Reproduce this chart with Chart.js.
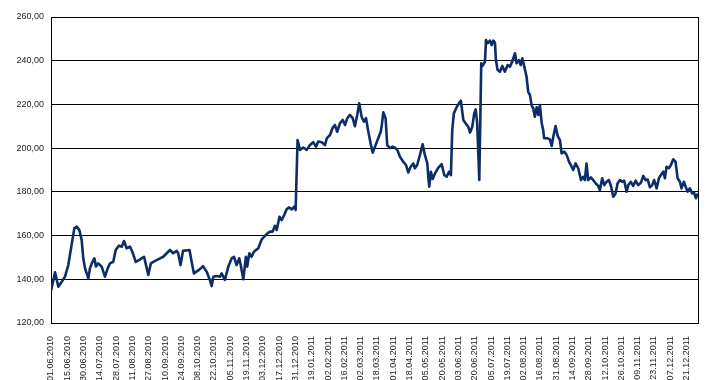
<!DOCTYPE html>
<html>
<head>
<meta charset="utf-8">
<script src="https://cdn.jsdelivr.net/npm/chart.js@4/dist/chart.umd.min.js"></script>
<style>
  html, body { margin: 0; padding: 0; background: #fff; }
  #wrap { width: 717px; height: 380px; }
</style>
</head>
<body>
<div id="wrap"><canvas id="price_chart"></canvas></div>
<script>
// tick labels, one every 10 trading days
const dateLabels = ['01.06.2010', '15.06.2010', '30.06.2010', '14.07.2010', '28.07.2010', '11.08.2010',
    '27.08.2010', '10.09.2010', '24.09.2010', '08.10.2010', '22.10.2010', '05.11.2010', '19.11.2010',
    '03.12.2010', '17.12.2010', '31.12.2010', '19.01.2011', '02.02.2011', '16.02.2011', '02.03.2011',
    '18.03.2011', '01.04.2011', '18.04.2011', '05.05.2011', '20.05.2011', '03.06.2011', '20.06.2011',
    '05.07.2011', '19.07.2011', '02.08.2011', '16.08.2011', '31.08.2011', '14.09.2011', '28.09.2011',
    '12.10.2011', '26.10.2011', '09.11.2011', '23.11.2011', '07.12.2011', '21.12.2011']

// trading day index of each point
const dayIndex = [0, 2.5, 4.5, 6.6, 8.6, 10.6, 12.3, 14.3, 15.8, 17.4, 18.8, 19.8, 20.9, 21.9, 22.9, 23.9,
    25, 26.6, 27.6, 29, 31.1, 33.1, 34.8, 36.2, 38.2, 39.7, 41.7, 43.4, 44.8, 46.4, 48.5, 49.9,
    52, 54, 55.6, 57.1, 58.3, 59.7, 61.3, 62.8, 64.8, 66.9, 68.9, 71, 73, 75, 77.1, 78, 79.5,
    81, 85, 86.3, 87.7, 90.8, 93.3, 95.5, 97.5, 98.6, 99.6, 101.7, 103.7, 104.7, 106.7, 108.8,
    110.9, 112.3, 113.9, 115.5, 116.4, 118, 119.6, 120.4, 121.7, 123.1, 124.5, 127.2, 129.3,
    132.3, 134.4, 136, 137.4, 138.5, 140.2, 141.5, 143.1, 144.6, 146, 147.7, 149.3, 150.1,
    151.3, 152.8, 154.8, 156.9, 158.9, 160.9, 162.6, 164, 166.1, 168.1, 169.2, 171.2, 172.8,
    174.2, 175.6, 177.3, 179, 180.4, 181.8, 183.4, 185.1, 186.5, 187.9, 189.1, 190.6, 192,
    193.3, 194.7, 196.1, 197.4, 198.8, 200.8, 202.3, 202.9, 203.9, 205.3, 206.3, 208, 209.6,
    211, 212.5, 214.1, 216.1, 217.8, 219.2, 220.7, 222.3, 223.3, 224.7, 226.4, 228, 229.4,
    230.9, 231.5, 232.1, 233.1, 234.2, 235.6, 237.6, 239.7, 241.3, 242.8, 244.2, 245.4, 246.2,
    247.2, 248.9, 250.3, 251.5, 253, 254.4, 256, 257.1, 258.5, 259.7, 260.6, 261.5, 262.8,
    264, 264.8, 266.3, 266.9, 267.9, 269.3, 270.4, 271.4, 272.4, 273, 274, 275.5, 276.9,
    278.5, 280.2, 281.6, 283, 284.7, 285.7, 287.1, 288.2, 289.2, 290.4, 291.8, 292.8, 293.9,
    294.9, 295.9, 296.9, 298, 299, 300, 301.1, 302, 302.6, 304.7, 306.1, 307.2, 308.2, 309.6,
    310.9, 312.3, 313.3, 314.9, 316.4, 318, 319, 320.4, 321.9, 323.5, 325.2, 326.6, 327.6,
    328.6, 329.6, 331.3, 332.7, 334.2, 335.8, 336.8, 338.2, 339.5, 340.9, 342.3, 343.6, 345,
    346.4, 347.7, 349.1, 350.5, 351.7, 353.2, 354.2, 355.8, 357.2, 358.7, 360.3, 362, 363.4,
    364.8, 366.1, 367.5, 368.9, 370.1, 371.6, 373, 374.2, 375.7, 376.7, 377.7, 379.1, 380.4,
    381.8, 383.2, 384.5, 385.9, 386.9, 388.3, 389.4, 390.6, 392, 393.4, 394.6, 395.7, 397]

const prices = [134.6, 143.2, 136.6, 138.9, 141.2, 146.5, 154.2, 163.3, 164.1, 162.5, 158, 149.6, 145,
    142.7, 140.4, 145, 147.3, 149.6, 145.8, 147.3, 145.8, 141.2, 145, 147.3, 148, 153.4, 155.4,
    154.9, 157.5, 154.2, 154.9, 152.6, 148, 148.8, 149.6, 150.3, 146.5, 142, 147.3, 148, 148.8,
    149.6, 150.3, 151.9, 153.4, 151.9, 153, 152, 146.5, 153, 153.4, 148, 142.7, 144.3, 146,
    143.5, 139.7, 136.9, 141.2, 141.5, 141.2, 142.7, 139.7, 145.8, 149.6, 150.3, 146.5, 149.6,
    146.5, 140, 150.3, 145.8, 151.9, 150.3, 152.6, 154.2, 158.3, 160.7, 161.8, 161.8, 164.5,
    162.5, 168.6, 167.1, 169.4, 172, 172.9, 172, 173.2, 171.7, 203.7, 199.2, 200.3, 199.2,
    201.4, 202.7, 200.7, 203, 202.7, 201.4, 204.5, 206, 209.3, 210.6, 207.5, 211.4, 212.9,
    210.6, 213.7, 215.2, 213.7, 210, 215.2, 220.5, 214.4, 212.1, 213.7, 207.5, 202.2, 197.9,
    200.7, 204.5, 207.5, 210, 216.4, 213.7, 201.4, 200, 200.7, 200.2, 199.2, 196.1, 193.8,
    192.3, 188.9, 191.5, 193, 190.8, 192.3, 196.9, 201.8, 196.9, 193, 186.9, 182.4, 189.2,
    185.9, 188.4, 191, 192.7, 187.7, 186.9, 189.2, 187.7, 208.3, 215.9, 218.7, 220.5, 221.7,
    212.9, 211.4, 209.8, 207.1, 209.8, 215.9, 217.7, 211.4, 185.4, 238.8, 237.6, 239.6, 249.5,
    248, 249.2, 247.2, 249.2, 248.3, 240.3, 235.8, 235, 237.6, 235, 238, 237.3, 239.6, 243.4,
    238.8, 240.3, 238, 241.1, 237.3, 232.7, 225.8, 224.3, 219.7, 218.2, 214.4, 218.7, 215.2,
    219.7, 211.4, 208.3, 204.5, 204.5, 204, 201, 205.2, 210.1, 205.6, 203.7, 197.6, 198.4,
    196.9, 193.5, 192.3, 190, 193, 190.8, 185.4, 186.9, 185.4, 193, 185.4, 186.6, 185.4,
    183.9, 182.7, 180.8, 186.2, 183.1, 184.6, 185.4, 182.7, 177.8, 179.3, 183.9, 185.4, 184.6,
    185.1, 180.1, 183.1, 184.6, 182.7, 185.1, 183.1, 184.2, 187.3, 185.4, 185.7, 182.1, 183.1,
    185.4, 181.6, 186.2, 187.7, 189.2, 186.2, 191.5, 190.8, 192.3, 194.9, 193.8, 186.2, 184.6,
    181.6, 184.6, 182.4, 180.1, 181.6, 179.3, 179.6, 177.1, 179.3]

const yTicks = [120, 140, 160, 180, 200, 220, 240, 260]

// right edge of the frame (left, top and bottom come from axes and grid)
const frame = {
    id: 'frame',
    afterDraw(chart) {
        const { ctx, chartArea } = chart
        const x = Math.round(chartArea.right) + 0.5
        ctx.save()
        ctx.strokeStyle = '#000'
        ctx.lineWidth = 1
        ctx.beginPath()
        ctx.moveTo(x, chartArea.top)
        ctx.lineTo(x, chartArea.bottom)
        ctx.stroke()
        ctx.restore()
    }
}

function priceChart() {
    new Chart(document.querySelector('#price_chart'), {
        type: 'line',
        data: {
            datasets: [{
                label: 'price',
                data: dayIndex.map((d, i) => ({ x: d, y: prices[i] })),
                borderColor: '#0c2d69',
                borderWidth: 2.6,
                borderJoinStyle: 'round',
                pointRadius: 0,
                fill: false,
                tension: 0
            }]
        },
        options: {
            responsive: true,
            maintainAspectRatio: false,
            animation: false,
            layout: { padding: { top: 17, right: 19, left: 0, bottom: 0 } },
            plugins: {
                legend: { display: false },
                tooltip: { enabled: false }
            },
            scales: {
                x: {
                    type: 'linear',
                    min: 0,
                    max: 397,
                    afterFit: (scale) => { scale.height = 57 },
                    grid: { display: false },
                    border: { display: true, color: '#000', width: 1 },
                    ticks: {
                        stepSize: 10,
                        autoSkip: false,
                        minRotation: 90,
                        maxRotation: 90,
                        padding: 5,
                        color: '#222',
                        font: { family: 'Liberation Sans', size: 9 },
                        callback: (v) => (v % 10 === 0 && dateLabels[v / 10]) || ''
                    }
                },
                y: {
                    min: 120,
                    max: 260,
                    afterFit: (scale) => { scale.width = 51 },
                    afterBuildTicks: (scale) => { scale.ticks = yTicks.map(v => ({ value: v })) },
                    grid: { color: '#000', lineWidth: 1, drawTicks: false },
                    border: { display: true, color: '#000', width: 1 },
                    ticks: {
                        padding: 7,
                        color: '#222',
                        font: { family: 'Liberation Sans', size: 9 },
                        callback: (v) => v.toFixed(2).replace('.', ',')
                    }
                }
            }
        },
        plugins: [frame]
    });
}
priceChart()
</script>
</body>
</html>
